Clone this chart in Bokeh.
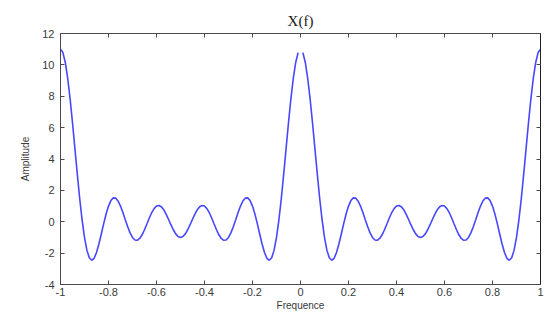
from bokeh.plotting import figure
from bokeh.models import Range1d, LinearAxis, FixedTicker, Title
from bokeh.embed import file_html
from bokeh.resources import INLINE

# Sampled spectrum X(f), f from -1 to 1 in steps of 0.01 (gap at f = 0)
freq = [-1.00, -0.99, -0.98, -0.97, -0.96, -0.95, -0.94, -0.93, -0.92, -0.91,
        -0.90, -0.89, -0.88, -0.87, -0.86, -0.85, -0.84, -0.83, -0.82, -0.81,
        -0.80, -0.79, -0.78, -0.77, -0.76, -0.75, -0.74, -0.73, -0.72, -0.71,
        -0.70, -0.69, -0.68, -0.67, -0.66, -0.65, -0.64, -0.63, -0.62, -0.61,
        -0.60, -0.59, -0.58, -0.57, -0.56, -0.55, -0.54, -0.53, -0.52, -0.51,
        -0.50, -0.49, -0.48, -0.47, -0.46, -0.45, -0.44, -0.43, -0.42, -0.41,
        -0.40, -0.39, -0.38, -0.37, -0.36, -0.35, -0.34, -0.33, -0.32, -0.31,
        -0.30, -0.29, -0.28, -0.27, -0.26, -0.25, -0.24, -0.23, -0.22, -0.21,
        -0.20, -0.19, -0.18, -0.17, -0.16, -0.15, -0.14, -0.13, -0.12, -0.11,
        -0.10, -0.09, -0.08, -0.07, -0.06, -0.05, -0.04, -0.03, -0.02, -0.01,
        0.00,
        0.01, 0.02, 0.03, 0.04, 0.05, 0.06, 0.07, 0.08, 0.09, 0.10,
        0.11, 0.12, 0.13, 0.14, 0.15, 0.16, 0.17, 0.18, 0.19, 0.20,
        0.21, 0.22, 0.23, 0.24, 0.25, 0.26, 0.27, 0.28, 0.29, 0.30,
        0.31, 0.32, 0.33, 0.34, 0.35, 0.36, 0.37, 0.38, 0.39, 0.40,
        0.41, 0.42, 0.43, 0.44, 0.45, 0.46, 0.47, 0.48, 0.49, 0.50,
        0.51, 0.52, 0.53, 0.54, 0.55, 0.56, 0.57, 0.58, 0.59, 0.60,
        0.61, 0.62, 0.63, 0.64, 0.65, 0.66, 0.67, 0.68, 0.69, 0.70,
        0.71, 0.72, 0.73, 0.74, 0.75, 0.76, 0.77, 0.78, 0.79, 0.80,
        0.81, 0.82, 0.83, 0.84, 0.85, 0.86, 0.87, 0.88, 0.89, 0.90,
        0.91, 0.92, 0.93, 0.94, 0.95, 0.96, 0.97, 0.98, 0.99, 1.00]

amplitude = [11.000, 10.784, 10.152, 9.146, 7.838, 6.314, 4.677, 3.032, 1.480, 0.113,
             -1.000, -1.809, -2.294, -2.457, -2.330, -1.963, -1.421, -0.780, -0.117, 0.496,
             1.000, 1.349, 1.520, 1.505, 1.322, 1.000, 0.584, 0.126, -0.323, -0.711,
             -1.000, -1.161, -1.182, -1.066, -0.832, -0.510, -0.139, 0.238, 0.576, 0.840,
             1.000, 1.041, 0.960, 0.769, 0.490, 0.158, -0.189, -0.511, -0.772, -0.941,
             -1.000, -0.941, -0.772, -0.511, -0.189, 0.158, 0.490, 0.769, 0.960, 1.041,
             1.000, 0.840, 0.576, 0.238, -0.139, -0.510, -0.832, -1.066, -1.182, -1.161,
             -1.000, -0.711, -0.323, 0.126, 0.584, 1.000, 1.322, 1.505, 1.520, 1.349,
             1.000, 0.496, -0.117, -0.780, -1.421, -1.963, -2.330, -2.457, -2.294, -1.809,
             -1.000, 0.113, 1.480, 3.032, 4.677, 6.314, 7.838, 9.146, 10.152, 10.784,
             float("nan"),
             10.784, 10.152, 9.146, 7.838, 6.314, 4.677, 3.032, 1.480, 0.113, -1.000,
             -1.809, -2.294, -2.457, -2.330, -1.963, -1.421, -0.780, -0.117, 0.496, 1.000,
             1.349, 1.520, 1.505, 1.322, 1.000, 0.584, 0.126, -0.323, -0.711, -1.000,
             -1.161, -1.182, -1.066, -0.832, -0.510, -0.139, 0.238, 0.576, 0.840, 1.000,
             1.041, 0.960, 0.769, 0.490, 0.158, -0.189, -0.511, -0.772, -0.941, -1.000,
             -0.941, -0.772, -0.511, -0.189, 0.158, 0.490, 0.769, 0.960, 1.041, 1.000,
             0.840, 0.576, 0.238, -0.139, -0.510, -0.832, -1.066, -1.182, -1.161, -1.000,
             -0.711, -0.323, 0.126, 0.584, 1.000, 1.322, 1.505, 1.520, 1.349, 1.000,
             0.496, -0.117, -0.780, -1.421, -1.963, -2.330, -2.457, -2.294, -1.809, -1.000,
             0.113, 1.480, 3.032, 4.677, 6.314, 7.838, 9.146, 10.152, 10.784, 11.000]

x_ticks = [-1, -0.8, -0.6, -0.4, -0.2, 0, 0.2, 0.4, 0.6, 0.8, 1]
x_tick_labels = ["-1", "-0.8", "-0.6", "-0.4", "-0.2", "0", "0.2", "0.4", "0.6", "0.8", "1"]
y_ticks = [-4, -2, 0, 2, 4, 6, 8, 10, 12]
y_tick_labels = ["-4", "-2", "0", "2", "4", "6", "8", "10", "12"]

title_text = "X(f)"
x_label = "Frequence"
y_label = "Amplitude"

p = figure(width=554, height=321, output_backend="svg", toolbar_location=None,
           x_range=Range1d(-1, 1), y_range=Range1d(-4, 12),
           min_border_left=60, min_border_right=14, min_border_top=33,
           min_border_bottom=37, x_axis_location=None, y_axis_location=None)
p.background_fill_color = "white"
p.border_fill_color = "white"
p.outline_line_color = None
p.xgrid.visible = False
p.ygrid.visible = False

p.title = Title(text=title_text, align="center", text_font="Liberation Serif",
                text_font_size="15px", text_font_style="normal",
                text_color="#1a1a1a", offset=0, standoff=9)

p.line(freq, amplitude, line_color="#4747ff", line_width=1.6)

axis_color = "#4a4a4a"
label_color = "#3a3a3a"


def style(ax, ticks, labels, show_labels):
    ax.ticker = FixedTicker(ticks=ticks)
    ax.major_label_overrides = {t: l for t, l in zip(ticks, labels)}
    ax.axis_line_color = axis_color
    ax.axis_line_width = 1
    ax.major_tick_line_color = axis_color
    ax.major_tick_in = 4
    ax.major_tick_out = 0
    ax.minor_tick_line_color = None
    ax.major_label_text_font = "Liberation Sans"
    ax.major_label_text_font_size = "11px"
    ax.major_label_text_color = label_color
    if not show_labels:
        ax.major_label_text_alpha = 0
        ax.major_label_text_font_size = "1px"
        ax.major_label_standoff = 0


bottom = LinearAxis(axis_label=x_label)
style(bottom, x_ticks, x_tick_labels, True)
bottom.major_label_standoff = 3
bottom.axis_label_text_font = "Liberation Sans"
bottom.axis_label_text_font_size = "10px"
bottom.axis_label_text_font_style = "normal"
bottom.axis_label_text_color = label_color
bottom.axis_label_standoff = 1
p.add_layout(bottom, "below")

left = LinearAxis(axis_label=y_label)
style(left, y_ticks, y_tick_labels, True)
left.major_label_standoff = 6
left.axis_label_text_font = "Liberation Sans"
left.axis_label_text_font_size = "10px"
left.axis_label_text_font_style = "normal"
left.axis_label_text_color = label_color
left.axis_label_standoff = 8
p.add_layout(left, "left")

top = LinearAxis()
style(top, x_ticks, x_tick_labels, False)
p.add_layout(top, "above")

right = LinearAxis()
style(right, y_ticks, y_tick_labels, False)
right.axis_line_color = "#222222"
p.add_layout(right, "right")

open("out.html", "w").write(file_html(p, INLINE))
